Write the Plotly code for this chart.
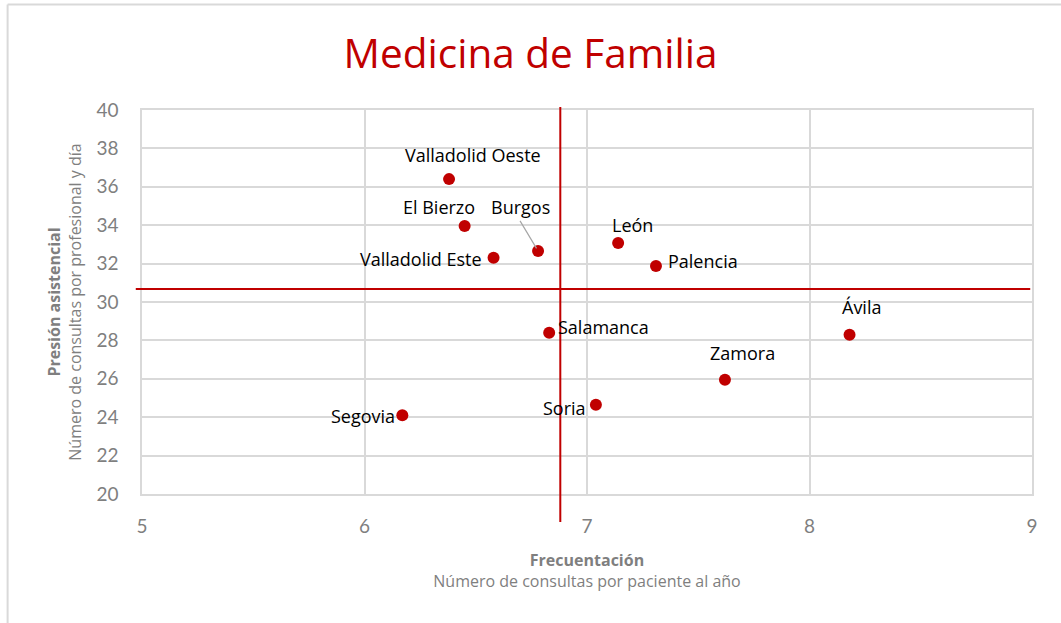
import plotly.graph_objects as go

areas = ["Valladolid Oeste", "El Bierzo", "Burgos", "Valladolid Este", "León", "Palencia",
         "Ávila", "Zamora", "Salamanca", "Soria", "Segovia"]
frecuentacion = [6.38, 6.45, 6.78, 6.58, 7.14, 7.31, 8.18, 7.62, 6.83, 7.04, 6.17]
presion = [36.4, 33.96, 32.66, 32.3, 33.07, 31.87, 28.3, 25.95, 28.4, 24.65, 24.1]
mean_x = 6.88
mean_y = 30.68

# label placement (style): xshift, yshift, xanchor
label_pos = {
    "Valladolid Oeste": (24, 24, "center"),
    "El Bierzo": (-26, 19, "center"),
    "Valladolid Este": (-10, -1, "right"),
    "León": (14, 18, "center"),
    "Palencia": (10, 5, "left"),
    "Ávila": (12, 28, "center"),
    "Zamora": (18, 27, "center"),
    "Salamanca": (7, 6, "left"),
    "Soria": (-8, -3, "right"),
    "Segovia": (-5, -1, "right"),
}

RED = "#c00000"
GRID = "#d9d9d9"
FONT = "'Open Sans', Lato, sans-serif"
TICKFONT = "Lato, 'Open Sans', sans-serif"

fig = go.Figure()
fig.add_trace(go.Scatter(x=frecuentacion, y=presion, mode="markers",
                         marker=dict(color=RED, size=12), hoverinfo="text", text=areas))

annotations = []
for name, xv, yv in zip(areas, frecuentacion, presion):
    if name == "Burgos":
        annotations.append(dict(x=xv, y=yv, text=name, showarrow=True, arrowhead=0,
                                arrowcolor="#a6a6a6", arrowwidth=1.2, ax=-18, ay=-30,
                                standoff=3, font=dict(size=18, color="black", family=FONT),
                                yanchor="bottom"))
        continue
    xs, ys, xa = label_pos[name]
    annotations.append(dict(x=xv, y=yv, text=name, showarrow=False, xshift=xs, yshift=ys,
                            xanchor=xa, yanchor="middle",
                            font=dict(size=18, color="black", family=FONT)))

fig.update_layout(
    width=1061, height=623,
    margin=dict(l=142, r=29, t=110, b=129),
    paper_bgcolor="white", plot_bgcolor="white",
    showlegend=False,
    font=dict(family=FONT, color="#7f7f7f"),
    title=dict(text="Medicina de Familia", x=0.5, xanchor="center", y=0.914, yanchor="middle",
               font=dict(size=40.5, color=RED, family=FONT)),
    xaxis=dict(range=[5, 9], dtick=1, tick0=5, showgrid=True, gridcolor=GRID, gridwidth=1.5,
               zeroline=False, showline=True, linecolor=GRID, mirror=True, linewidth=1.5,
               tickfont=dict(size=19, color="#7f7f7f", family=TICKFONT), ticks="",
               ticklabelstandoff=14,
               title=dict(text="<b>Frecuentación</b><br>Número de consultas por paciente al año",
                          font=dict(size=16, color="#7f7f7f"), standoff=19)),
    yaxis=dict(range=[20, 40], dtick=2, tick0=20, showgrid=True, gridcolor=GRID, gridwidth=1.5,
               zeroline=False, showline=True, linecolor=GRID, mirror=True, linewidth=1.5,
               tickfont=dict(size=19, color="#7f7f7f", family=TICKFONT), ticks="",
               ticklabelstandoff=18,
               title=dict(text="<b>Presión asistencial</b><br>Número de consultas por profesional y día",
                          font=dict(size=16, color="#7f7f7f"), standoff=11)),
    annotations=annotations,
    shapes=[
        dict(type="line", xref="x", yref="paper", x0=mean_x, x1=mean_x, y0=-0.073, y1=1.008,
             line=dict(color=RED, width=2)),
        dict(type="line", xref="paper", yref="y", x0=-0.007, x1=0.998, y0=mean_y, y1=mean_y,
             line=dict(color=RED, width=2)),
        dict(type="line", xref="paper", yref="paper", x0=-0.151, x1=-0.151, y0=-0.4, y1=1.275,
             line=dict(color=GRID, width=2)),
        dict(type="line", xref="paper", yref="paper", x0=-0.151, x1=1.04, y0=1.275, y1=1.275,
             line=dict(color=GRID, width=2)),
    ],
)

fig.write_html("out.html", config={"displayModeBar": False},
               post_script="document.body.style.margin='0';")
